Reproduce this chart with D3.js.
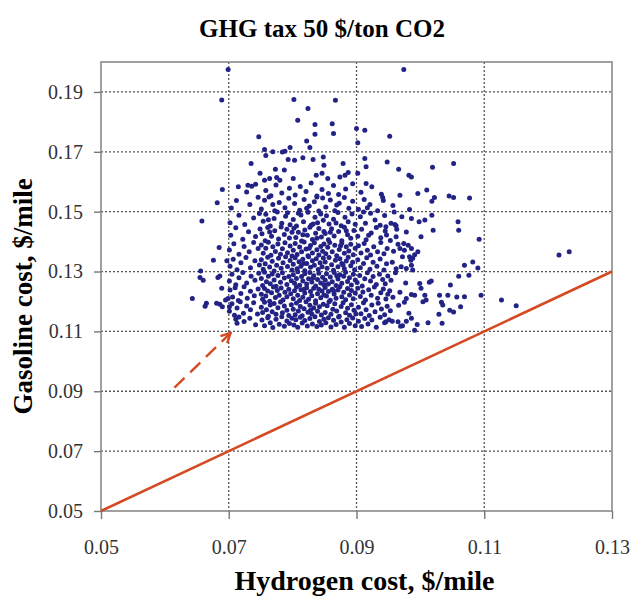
<!DOCTYPE html>
<html>
<head>
<meta charset="utf-8">
<script src="https://cdn.jsdelivr.net/npm/d3@7.9.0/dist/d3.min.js"></script>
<style>
  body { margin: 0; background: #fff; }
  text { font-family: "Liberation Serif", "Times New Roman", serif; }
</style>
</head>
<body>
<svg id="chart" width="634" height="597"></svg>
<script>
/* ---------- data ($/mile) ---------- */
const xTicks = [0.05, 0.07, 0.09, 0.11, 0.13];
const yTicks = [0.05, 0.07, 0.09, 0.11, 0.13, 0.15, 0.17, 0.19];
const xGrid = [0.07, 0.09, 0.11];
const yGrid = [0.07, 0.09, 0.11, 0.13, 0.15, 0.17, 0.19];

// break-even line: hydrogen cost == gasoline cost
const parityLine = [[0.05, 0.05], [0.13, 0.13]];
// dashed arrow pointing at the lower-left corner of the cloud
const arrowLine = [[0.0615, 0.0912], [0.0703, 0.1095]];

// sparse points above the cloud
const topPoints = [
  [0.0699,0.1975],[0.0974,0.1975],[0.0689,0.1873],[0.0802,0.1875],[0.0867,0.1872],[0.0824,0.1845],
  [0.0808,0.1805],[0.0835,0.1791],[0.0862,0.1794],[0.0900,0.1778],[0.0913,0.1772],[0.0747,0.1750],
  [0.0835,0.1759],[0.0864,0.1761],[0.0902,0.1730],[0.0822,0.1736],[0.0827,0.1714],[0.0952,0.1752],
  [0.0756,0.1708],[0.0758,0.1688],[0.0769,0.1700],[0.0784,0.1699],[0.0788,0.1702],[0.0796,0.1714],
  [0.0793,0.1674],[0.0803,0.1672],[0.0816,0.1680],[0.0832,0.1674],[0.0848,0.1683],[0.0849,0.1655],
  [0.0879,0.1661],[0.0913,0.1678],[0.0915,0.1650],[0.0735,0.1661],[0.0749,0.1628],[0.0773,0.1642],
  [0.0787,0.1639],[0.0764,0.1611],[0.0756,0.1605],[0.0775,0.1614],[0.0780,0.1605],[0.0801,0.1611],
  [0.0837,0.1622],[0.0846,0.1628],[0.0855,0.1611],[0.0874,0.1616],[0.0882,0.1622],[0.0887,0.1631],
  [0.0902,0.1628],[0.0915,0.1594],[0.0690,0.1574],[0.0715,0.1583],[0.0730,0.1588],[0.0736,0.1585],
  [0.0948,0.1666],[0.0966,0.1642],[0.1019,0.1648],[0.1052,0.1661],[0.0982,0.1622],[0.0986,0.1616],
  [0.0968,0.1555],[0.0996,0.1561],[0.1010,0.1572],[0.1022,0.1547],[0.1045,0.1552],[0.1052,0.1547],
  [0.1077,0.1546],[0.0941,0.1547],[0.1018,0.1535]
];

// sparse points left of 0.07
const leftPoints = [
  [0.0682,0.1530],[0.0658,0.1469],[0.0685,0.1380],[0.0676,0.1338],[0.0697,0.1336],[0.0656,0.1302],
  [0.0655,0.1280],[0.0660,0.1271],[0.0683,0.1280],[0.0686,0.1285],[0.0689,0.1244],[0.0643,0.1210],
  [0.0665,0.1194],[0.0663,0.1184],[0.0681,0.1194],[0.0686,0.1191],[0.0690,0.1182],[0.0695,0.1205],
  [0.0699,0.1210],[0.0701,0.1182]
];

// right-hand tail of the cloud
const rightPoints = [
  [0.1127,0.1205],[0.1150,0.1186],[0.1217,0.1355],[0.1233,0.1366],[0.1092,0.1408],[0.1095,0.1221],
  [0.1082,0.1332],[0.1090,0.1312],[0.1069,0.1321],[0.1076,0.1288],[0.1060,0.1284],[0.1047,0.1255],
  [0.1069,0.1216],[0.1057,0.1215],[0.1043,0.1221],[0.1030,0.1221],[0.1033,0.1197],[0.1035,0.1188],
  [0.1046,0.1171],[0.1052,0.1165],[0.1063,0.1182],[0.1029,0.1157],[0.1034,0.1127],[0.1012,0.1129],
  [0.1060,0.1438],[0.1059,0.1466],[0.1020,0.1438],[0.1018,0.1488],[0.1007,0.1472],[0.0998,0.1466],
  [0.0986,0.1477],[0.1001,0.1416],[0.0959,0.1499],[0.0960,0.1457],[0.0962,0.1453],[0.0946,0.1450],
  [0.0947,0.1422],[0.0963,0.1441],[0.0962,0.1416],[0.0974,0.1394],[0.0968,0.1377],[0.0975,0.1371],
  [0.0972,0.1349],[0.0981,0.1388],[0.0986,0.1377],[0.0983,0.1349],[0.0988,0.1344],[0.0996,0.1366],
  [0.0986,0.1321],[0.0988,0.1305],[0.0978,0.1310],[0.0970,0.1316],[0.0999,0.1260],[0.1001,0.1244],
  [0.1007,0.1221],[0.1009,0.1205],[0.1004,0.1199],[0.0991,0.1221],[0.0986,0.1223],[0.0978,0.1210],
  [0.0975,0.1197],[0.1014,0.1264],[0.1017,0.1268],[0.0946,0.1132],[0.0956,0.1134],[0.0965,0.1132],
  [0.0972,0.1119],[0.0978,0.1134],[0.0995,0.1123],[0.0991,0.1104]
];

// dense core, read band by band from top to bottom
const corePoints = [
  // 0.155 - 0.160
  [0.0728,0.1566],[0.0742,0.1592],[0.0758,0.1571],[0.0766,0.1553],[0.0774,0.1589],[0.0783,0.1562],
  [0.0795,0.1578],[0.0804,0.1556],[0.0812,0.1584],[0.0821,0.1567],[0.0829,0.1596],[0.0838,0.1552],
  [0.0846,0.1574],[0.0856,0.1561],[0.0864,0.1587],[0.0872,0.1557],[0.0883,0.1576],[0.0894,0.1593],
  [0.0907,0.1565],[0.0924,0.1583],[0.0939,0.1558],
  // 0.150 - 0.155
  [0.0712,0.1537],[0.0704,0.1512],[0.0733,0.1524],[0.0746,0.1548],
  [0.0756,0.1538],[0.0751,0.1509],[0.0769,0.1524],[0.0763,0.1549],[0.0788,0.1513],[0.0779,0.1531],[0.0794,0.1545],[0.0772,0.1503],
  [0.0803,0.1527],[0.0811,0.1505],[0.0818,0.1541],[0.0826,0.1519],[0.0834,0.1533],[0.0841,0.1502],[0.0847,0.1546],[0.0822,0.1511],[0.0838,0.1549],
  [0.0852,0.1516],[0.0859,0.1539],[0.0866,0.1503],[0.0873,0.1528],[0.0881,0.1547],[0.0888,0.1511],[0.0894,0.1535],[0.0869,0.1522],
  [0.0903,0.1508],[0.0912,0.1541],[0.0921,0.1524],[0.0933,0.1503],[0.0942,0.1537],[0.0917,0.1513],
  [0.0957,0.1521],[0.0983,0.1507],
  // 0.145 - 0.150
  [0.0702,0.1463],[0.0716,0.1488],[0.0725,0.1457],[0.0739,0.1479],[0.0748,0.1494],
  [0.0754,0.1468],[0.0758,0.1491],[0.0765,0.1452],[0.0771,0.1477],[0.0776,0.1499],[0.0783,0.1461],[0.0789,0.1485],[0.0796,0.1456],[0.0762,0.1473],[0.0792,0.1496],
  [0.0801,0.1474],[0.0806,0.1452],[0.0813,0.1489],[0.0817,0.1466],[0.0824,0.1498],[0.0829,0.1455],[0.0835,0.1481],[0.0839,0.1463],[0.0844,0.1492],[0.0848,0.1471],[0.0809,0.1495],[0.0832,0.1459],
  [0.0853,0.1486],[0.0857,0.1459],[0.0864,0.1475],[0.0871,0.1497],[0.0876,0.1453],[0.0882,0.1481],[0.0887,0.1466],[0.0893,0.1492],[0.0898,0.1458],[0.0868,0.1462],
  [0.0906,0.1483],[0.0914,0.1461],[0.0922,0.1495],[0.0929,0.1472],[0.0937,0.1455],[0.0944,0.1487],[0.0911,0.1499],
  [0.0971,0.1483],[0.0954,0.1461],
  // 0.140 - 0.145
  [0.0703,0.1421],[0.0711,0.1446],[0.0722,0.1408],[0.0731,0.1433],[0.0742,0.1417],[0.0749,0.1442],
  [0.0752,0.1426],[0.0757,0.1403],[0.0761,0.1447],[0.0767,0.1418],[0.0772,0.1436],[0.0778,0.1409],[0.0782,0.1449],[0.0787,0.1424],[0.0791,0.1441],[0.0795,0.1412],[0.0799,0.1431],[0.0764,0.1432],
  [0.0802,0.1445],[0.0805,0.1414],[0.0809,0.1431],[0.0814,0.1402],[0.0819,0.1439],[0.0823,0.1421],[0.0827,0.1448],[0.0831,0.1407],[0.0836,0.1428],[0.0841,0.1444],[0.0845,0.1415],[0.0849,0.1434],[0.0816,0.1423],[0.0838,0.1411],
  [0.0851,0.1427],[0.0856,0.1406],[0.0861,0.1443],[0.0865,0.1419],[0.0872,0.1434],[0.0877,0.1403],[0.0881,0.1448],[0.0886,0.1423],[0.0891,0.1411],[0.0896,0.1437],[0.0859,0.1431],[0.0884,0.1436],
  [0.0902,0.1418],[0.0908,0.1441],[0.0915,0.1406],[0.0923,0.1429],[0.0931,0.1447],[0.0938,0.1413],[0.0945,0.1435],[0.0919,0.1421],
  [0.0953,0.1404],[0.0978,0.1432],
  // 0.135 - 0.140
  [0.0701,0.1372],[0.0708,0.1393],[0.0716,0.1358],[0.0724,0.1384],[0.0732,0.1366],[0.0739,0.1397],[0.0746,0.1377],
  [0.0751,0.1389],[0.0754,0.1361],[0.0758,0.1378],[0.0762,0.1398],[0.0766,0.1354],[0.0769,0.1383],[0.0773,0.1367],[0.0777,0.1392],[0.0781,0.1358],[0.0784,0.1376],[0.0788,0.1396],[0.0792,0.1363],[0.0796,0.1385],[0.0799,0.1352],
  [0.0801,0.1371],[0.0804,0.1394],[0.0807,0.1357],[0.0811,0.1382],[0.0814,0.1366],[0.0818,0.1399],[0.0821,0.1375],[0.0824,0.1353],[0.0828,0.1387],[0.0831,0.1362],[0.0834,0.1396],[0.0838,0.1373],[0.0841,0.1355],[0.0844,0.1384],[0.0847,0.1368],[0.0849,0.1392],[0.0826,0.1378],
  [0.0852,0.1359],[0.0855,0.1381],[0.0858,0.1397],[0.0862,0.1366],[0.0866,0.1388],[0.0869,0.1353],[0.0873,0.1374],[0.0877,0.1395],[0.0881,0.1361],[0.0884,0.1383],[0.0888,0.1369],[0.0891,0.1391],[0.0895,0.1356],[0.0898,0.1378],[0.0875,0.1386],
  [0.0903,0.1386],[0.0907,0.1362],[0.0912,0.1394],[0.0917,0.1371],[0.0922,0.1355],[0.0927,0.1383],[0.0933,0.1366],[0.0938,0.1397],[0.0943,0.1359],[0.0948,0.1377],
  [0.0958,0.1368],[0.0965,0.1391],[0.0991,0.1356],
  // 0.130 - 0.135
  [0.0702,0.1318],[0.0707,0.1341],[0.0713,0.1306],[0.0719,0.1329],[0.0727,0.1347],[0.0734,0.1313],[0.0741,0.1336],[0.0748,0.1322],
  [0.0751,0.1339],[0.0754,0.1308],[0.0757,0.1326],[0.0761,0.1348],[0.0764,0.1315],[0.0768,0.1334],[0.0771,0.1302],[0.0775,0.1321],[0.0778,0.1344],[0.0782,0.1311],[0.0785,0.1329],[0.0789,0.1349],[0.0792,0.1317],[0.0796,0.1337],[0.0799,0.1305],
  [0.0801,0.1324],[0.0804,0.1346],[0.0807,0.1309],[0.0810,0.1333],[0.0813,0.1318],[0.0816,0.1341],[0.0819,0.1303],[0.0822,0.1327],[0.0825,0.1349],[0.0828,0.1314],[0.0831,0.1336],[0.0834,0.1321],[0.0837,0.1343],[0.0840,0.1307],[0.0843,0.1329],[0.0846,0.1316],[0.0848,0.1345],[0.0817,0.1327],
  [0.0851,0.1332],[0.0854,0.1311],[0.0857,0.1347],[0.0861,0.1323],[0.0864,0.1304],[0.0867,0.1338],[0.0871,0.1316],[0.0874,0.1343],[0.0877,0.1327],[0.0881,0.1309],[0.0884,0.1335],[0.0887,0.1348],[0.0891,0.1319],[0.0894,0.1331],[0.0897,0.1306],[0.0879,0.1322],
  [0.0902,0.1339],[0.0906,0.1313],[0.0911,0.1327],[0.0916,0.1346],[0.0921,0.1308],[0.0926,0.1331],[0.0932,0.1318],[0.0937,0.1342],[0.0943,0.1305],[0.0947,0.1326],
  [0.0956,0.1331],[0.0962,0.1309],[0.0985,0.1338],
  // 0.125 - 0.130
  [0.0701,0.1268],[0.0705,0.1291],[0.0711,0.1256],[0.0716,0.1279],[0.0722,0.1297],[0.0728,0.1262],[0.0735,0.1284],[0.0741,0.1271],[0.0747,0.1294],
  [0.0751,0.1277],[0.0753,0.1253],[0.0756,0.1298],[0.0759,0.1266],[0.0762,0.1284],[0.0765,0.1259],[0.0768,0.1292],[0.0771,0.1272],[0.0774,0.1251],[0.0777,0.1287],[0.0781,0.1264],[0.0784,0.1296],[0.0787,0.1278],[0.0791,0.1257],[0.0794,0.1283],[0.0798,0.1269],
  [0.0801,0.1289],[0.0803,0.1261],[0.0806,0.1277],[0.0808,0.1299],[0.0811,0.1254],[0.0814,0.1283],[0.0816,0.1268],[0.0819,0.1293],[0.0822,0.1258],[0.0825,0.1276],[0.0827,0.1297],[0.0830,0.1265],[0.0833,0.1286],[0.0836,0.1252],[0.0839,0.1273],[0.0841,0.1294],[0.0844,0.1262],[0.0847,0.1281],[0.0849,0.1256],[0.0832,0.1279],
  [0.0851,0.1271],[0.0853,0.1293],[0.0856,0.1258],[0.0859,0.1282],[0.0862,0.1266],[0.0865,0.1297],[0.0868,0.1253],[0.0871,0.1275],[0.0874,0.1289],[0.0877,0.1261],[0.0880,0.1284],[0.0883,0.1298],[0.0886,0.1267],[0.0889,0.1279],[0.0892,0.1255],[0.0895,0.1291],[0.0898,0.1272],[0.0869,0.1286],
  [0.0901,0.1263],[0.0905,0.1287],[0.0909,0.1252],[0.0913,0.1276],[0.0917,0.1296],[0.0922,0.1268],[0.0926,0.1283],[0.0931,0.1257],[0.0936,0.1291],[0.0941,0.1273],[0.0945,0.1259],[0.0949,0.1285],
  [0.0954,0.1271],[0.0961,0.1296],[0.0977,0.1262],
  // 0.120 - 0.125
  [0.0702,0.1238],[0.0706,0.1215],[0.0710,0.1246],[0.0715,0.1203],[0.0719,0.1227],[0.0724,0.1249],[0.0729,0.1211],[0.0734,0.1234],[0.0740,0.1219],[0.0746,0.1242],
  [0.0751,0.1224],[0.0753,0.1207],[0.0756,0.1243],[0.0758,0.1218],[0.0761,0.1235],[0.0764,0.1201],[0.0767,0.1229],[0.0770,0.1248],[0.0773,0.1213],[0.0776,0.1237],[0.0779,0.1221],[0.0782,0.1245],[0.0785,0.1205],[0.0788,0.1231],[0.0791,0.1216],[0.0794,0.1241],[0.0797,0.1226],
  [0.0801,0.1209],[0.0803,0.1236],[0.0806,0.1248],[0.0808,0.1221],[0.0811,0.1203],[0.0813,0.1239],[0.0816,0.1214],[0.0819,0.1228],[0.0822,0.1246],[0.0825,0.1207],[0.0828,0.1233],[0.0830,0.1219],[0.0833,0.1244],[0.0836,0.1202],[0.0839,0.1226],[0.0841,0.1241],[0.0844,0.1212],[0.0846,0.1235],[0.0849,0.1222],[0.0818,0.1241],
  [0.0851,0.1247],[0.0853,0.1218],[0.0856,0.1233],[0.0859,0.1204],[0.0862,0.1241],[0.0865,0.1225],[0.0868,0.1211],[0.0871,0.1238],[0.0874,0.1249],[0.0877,0.1216],[0.0880,0.1231],[0.0883,0.1206],[0.0886,0.1243],[0.0889,0.1222],[0.0892,0.1237],[0.0895,0.1209],[0.0898,0.1228],[0.0864,0.1236],
  [0.0902,0.1244],[0.0906,0.1217],[0.0910,0.1232],[0.0914,0.1205],[0.0919,0.1239],[0.0923,0.1221],[0.0928,0.1248],[0.0933,0.1211],[0.0938,0.1229],[0.0942,0.1242],[0.0946,0.1208],[0.0949,0.1224],
  [0.0952,0.1236],[0.0957,0.1214],[0.0968,0.1231],
  // 0.115 - 0.120
  [0.0701,0.1167],[0.0705,0.1192],[0.0709,0.1154],[0.0713,0.1178],[0.0718,0.1199],[0.0723,0.1161],[0.0728,0.1185],[0.0734,0.1172],[0.0739,0.1196],[0.0745,0.1158],
  [0.0751,0.1181],[0.0753,0.1163],[0.0756,0.1197],[0.0759,0.1172],[0.0762,0.1151],[0.0765,0.1188],[0.0768,0.1166],[0.0771,0.1193],[0.0774,0.1157],[0.0777,0.1179],[0.0781,0.1198],[0.0784,0.1162],[0.0787,0.1185],[0.0791,0.1171],[0.0794,0.1153],[0.0798,0.1189],
  [0.0801,0.1174],[0.0804,0.1156],[0.0806,0.1195],[0.0809,0.1168],[0.0812,0.1183],[0.0815,0.1152],[0.0818,0.1176],[0.0821,0.1199],[0.0824,0.1164],[0.0827,0.1187],[0.0830,0.1158],[0.0833,0.1178],[0.0836,0.1194],[0.0839,0.1167],[0.0842,0.1182],[0.0845,0.1155],[0.0848,0.1191],[0.0828,0.1171],
  [0.0851,0.1163],[0.0854,0.1186],[0.0857,0.1199],[0.0860,0.1157],[0.0863,0.1174],[0.0866,0.1192],[0.0869,0.1168],[0.0873,0.1151],[0.0876,0.1183],[0.0879,0.1196],[0.0883,0.1162],[0.0886,0.1177],[0.0889,0.1154],[0.0892,0.1189],[0.0896,0.1171],[0.0899,0.1158],
  [0.0903,0.1181],[0.0907,0.1159],[0.0911,0.1196],[0.0915,0.1172],[0.0920,0.1153],[0.0924,0.1188],[0.0929,0.1166],[0.0934,0.1194],[0.0939,0.1175],[0.0944,0.1156],[0.0948,0.1184],
  [0.0953,0.1169],[0.0966,0.1187],[0.0982,0.1161],
  // 0.111 - 0.115
  [0.0711,0.1141],[0.0713,0.1127],[0.0716,0.1148],[0.0724,0.1133],[0.0733,0.1144],[0.0742,0.1122],
  [0.0752,0.1138],[0.0756,0.1119],[0.0761,0.1146],[0.0765,0.1129],[0.0769,0.1113],[0.0774,0.1141],[0.0779,0.1124],[0.0783,0.1149],[0.0787,0.1117],[0.0791,0.1135],[0.0795,0.1126],[0.0799,0.1144],
  [0.0802,0.1121],[0.0805,0.1139],[0.0808,0.1114],[0.0812,0.1147],[0.0815,0.1128],[0.0819,0.1136],[0.0823,0.1118],[0.0827,0.1143],[0.0831,0.1125],[0.0835,0.1149],[0.0838,0.1116],[0.0842,0.1133],[0.0845,0.1121],[0.0849,0.1141],
  [0.0852,0.1129],[0.0856,0.1146],[0.0860,0.1115],[0.0864,0.1137],[0.0868,0.1123],[0.0872,0.1148],[0.0876,0.1131],[0.0881,0.1114],[0.0885,0.1139],[0.0889,0.1126],[0.0894,0.1145],[0.0898,0.1119],
  [0.0903,0.1134],[0.0908,0.1116],[0.0913,0.1143],[0.0918,0.1125],[0.0924,0.1138],[0.0931,0.1114],[0.0937,0.1147],[0.0944,0.1129],
  [0.0951,0.1139],[0.0969,0.1117],[0.0986,0.1144]
];

const samples = [...topPoints, ...leftPoints, ...rightPoints, ...corePoints];

/* ---------- layout ---------- */
const svg = d3.select('#chart');
const area = { l: 101, r: 612, t: 62, b: 511 };

const xScale = d3.scaleLinear().domain([0.05, 0.13]).range([area.l, area.r]);
const yScale = d3.scaleLinear().domain([0.05, 0.20]).range([area.b, area.t]);

const red = '#d44a22';
const fmt = d3.format('.2f');

// grid
const grid = svg.append('g').attr('class', 'grid')
  .attr('stroke', '#555').attr('stroke-width', 1.3).attr('stroke-dasharray', '2,2');
grid.selectAll('line.gx').data(xGrid).join('line')
  .attr('x1', d => xScale(d)).attr('x2', d => xScale(d))
  .attr('y1', area.t).attr('y2', area.b);
grid.selectAll('line.gy').data(yGrid).join('line')
  .attr('y1', d => yScale(d)).attr('y2', d => yScale(d))
  .attr('x1', area.l).attr('x2', area.r);

// frame
svg.append('rect')
  .attr('x', area.l).attr('y', area.t)
  .attr('width', area.r - area.l).attr('height', area.b - area.t)
  .attr('fill', 'none').attr('stroke', '#8a8a8a').attr('stroke-width', 1.6);

// axes
const xAxis = svg.append('g').attr('transform', `translate(0,${area.b})`)
  .call(d3.axisBottom(xScale).tickValues(xTicks).tickFormat(fmt)
    .tickSize(8).tickSizeOuter(0).tickPadding(21));
const yAxis = svg.append('g').attr('transform', `translate(${area.l},0)`)
  .call(d3.axisLeft(yScale).tickValues(yTicks).tickFormat(fmt)
    .tickSize(7).tickSizeOuter(0).tickPadding(11));
[xAxis, yAxis].forEach(a => {
  a.select('.domain').remove();
  a.selectAll('.tick line').attr('stroke', '#777').attr('stroke-width', 1.4);
  a.selectAll('.tick text')
    .attr('fill', '#333')
    .style('font-family', '"Liberation Serif", serif')
    .style('font-size', '20px');
});

// parity line
const line = d3.line().x(d => xScale(d[0])).y(d => yScale(d[1]));
svg.append('path').datum(parityLine)
  .attr('d', line).attr('fill', 'none')
  .attr('stroke', red).attr('stroke-width', 2.6);

// dashed arrow
svg.append('defs').append('marker')
  .attr('id', 'head').attr('viewBox', '0 0 10 10')
  .attr('refX', 9).attr('refY', 5)
  .attr('markerWidth', 5).attr('markerHeight', 5)
  .attr('orient', 'auto')
  .append('path').attr('d', 'M1,1 L9,5 L1,9')
  .attr('fill', 'none').attr('stroke', red).attr('stroke-width', 2);
svg.append('path').datum(arrowLine)
  .attr('d', line).attr('fill', 'none')
  .attr('stroke', red).attr('stroke-width', 2.4)
  .attr('stroke-dasharray', '14,8')
  .attr('marker-end', 'url(#head)');

// points
svg.append('g').attr('class', 'dots')
  .selectAll('circle').data(samples).join('circle')
  .attr('cx', d => xScale(d[0]))
  .attr('cy', d => yScale(d[1]))
  .attr('r', 2.5)
  .attr('fill', '#232386');

// titles
svg.append('text')
  .attr('x', 322).attr('y', 37)
  .attr('text-anchor', 'middle')
  .style('font-weight', 'bold').style('font-size', '25px')
  .text('GHG tax 50 $/ton CO2');

svg.append('text')
  .attr('x', (area.l + area.r) / 2 + 8).attr('y', 590)
  .attr('text-anchor', 'middle')
  .style('font-weight', 'bold').style('font-size', '28px')
  .text('Hydrogen cost, $/mile');

svg.append('text')
  .attr('transform', `translate(32,${(area.t + area.b) / 2 + 10}) rotate(-90)`)
  .attr('text-anchor', 'middle')
  .style('font-weight', 'bold').style('font-size', '27px')
  .text('Gasoline cost, $/mile');
</script>
</body>
</html>
